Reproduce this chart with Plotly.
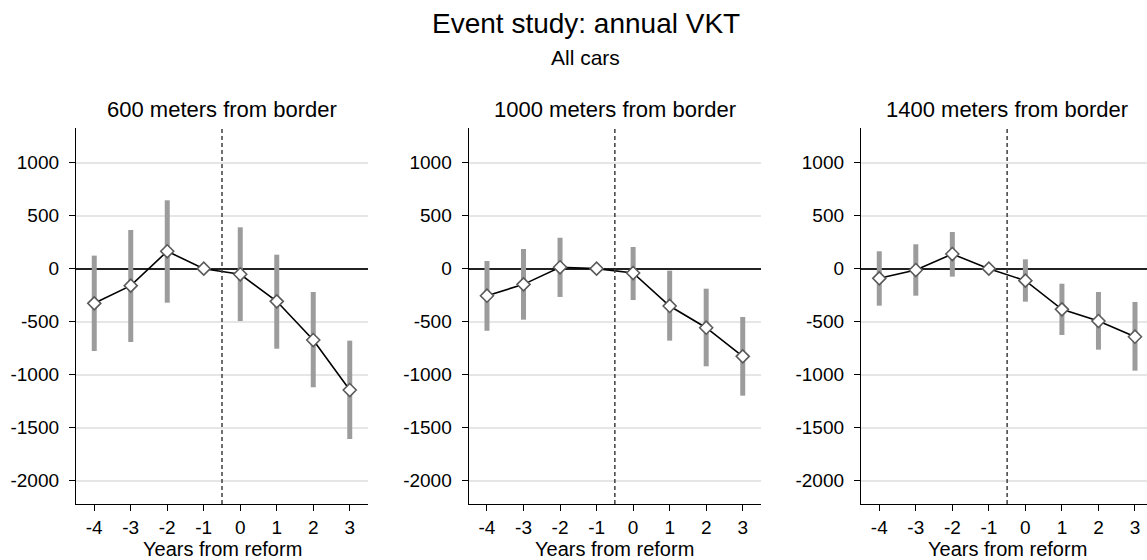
import plotly.graph_objects as go

# ---------------- data ----------------
years = [-4, -3, -2, -1, 0, 1, 2, 3]

panel_titles = ["600 meters from border", "1000 meters from border", "1400 meters from border"]

est_600 = [-327, -160, 164, 0, -53, -308, -673, -1145]
lo_600 = [-777, -692, -321, 0, -494, -755, -1119, -1607]
hi_600 = [123, 365, 645, 0, 390, 132, -220, -679]

est_1000 = [-255, -148, 13, 0, -41, -352, -557, -827]
lo_1000 = [-585, -481, -267, 0, -296, -679, -921, -1198]
hi_1000 = [72, 186, 292, 0, 204, -19, -189, -456]

est_1400 = [-91, -13, 138, 0, -113, -384, -494, -642]
lo_1400 = [-349, -255, -75, 0, -311, -626, -764, -962]
hi_1400 = [164, 230, 346, 0, 88, -142, -220, -314]

y_ticks = [-2000, -1500, -1000, -500, 0, 500, 1000]

panels = [
    (est_600, lo_600, hi_600),
    (est_1000, lo_1000, hi_1000),
    (est_1400, lo_1400, hi_1400),
]

# ---------------- layout constants ----------------
W, H = 1147, 560
FONT = "Liberation Sans, Arial, Helvetica, sans-serif"
x_domains = [[76 / W, 368 / W], [468.7 / W, 761 / W], [861 / W, 1.0]]
x_ranges = [[-4.5, 3.5], [-4.5, 3.5], [-4.5, 3 + 12 / 36.5]]
y_domain = [1 - 504 / H, 1 - 128 / H]
y_range = [-2220, 1327]

fig = go.Figure()

for i, (est, lo, hi) in enumerate(panels):
    xa = "x" if i == 0 else f"x{i + 1}"
    ya = "y" if i == 0 else f"y{i + 1}"
    # confidence interval spikes
    cx, cy = [], []
    for yr, l, h in zip(years, lo, hi):
        if l == h:
            continue
        cx += [yr, yr, None]
        cy += [l, h, None]
    fig.add_trace(go.Scatter(
        x=cx, y=cy, mode="lines", xaxis=xa, yaxis=ya,
        line=dict(color="#9c9c9c", width=5), showlegend=False, hoverinfo="skip",
    ))
    # point estimates
    fig.add_trace(go.Scatter(
        x=years, y=est, mode="lines+markers", xaxis=xa, yaxis=ya,
        line=dict(color="black", width=1.6),
        marker=dict(symbol="diamond", size=10, color="white",
                    line=dict(color="#5a5a5a", width=1.6)),
        showlegend=False,
    ))
    # vertical dashed reference line
    fig.add_shape(type="line", xref=xa, yref=f"{ya} domain", x0=-0.5, x1=-0.5, y0=0, y1=1,
                  line=dict(color="#404040", width=1.5, dash="4px,3px"), layer="above")
    # panel title
    fig.add_annotation(text=panel_titles[i], xref=xa, yref="paper", x=-0.5, y=1 - 109.5 / H,
                       xanchor="center", yanchor="middle", showarrow=False,
                       font=dict(size=22, color="black", family=FONT))
    # x axis title
    fig.add_annotation(text="Years from reform", xref=xa, yref="paper", x=-0.5, y=1 - 549 / H,
                       xanchor="center", yanchor="middle", showarrow=False,
                       font=dict(size=20, color="black", family=FONT))

    xkey = "xaxis" if i == 0 else f"xaxis{i + 1}"
    ykey = "yaxis" if i == 0 else f"yaxis{i + 1}"
    fig.update_layout({
        xkey: dict(
            domain=x_domains[i], range=x_ranges[i], anchor=ya,
            tickmode="array", tickvals=years, ticktext=[str(v) for v in years],
            showgrid=False, zeroline=False, showline=True, linecolor="black", linewidth=1.3,
            ticks="outside", ticklen=6, tickwidth=1.3, tickcolor="black",
            tickfont=dict(size=19, color="black", family=FONT), ticklabelstandoff=0,
            fixedrange=True,
        ),
        ykey: dict(
            domain=y_domain, range=y_range, anchor=xa,
            tickmode="array", tickvals=y_ticks, ticktext=[str(v) for v in y_ticks],
            showgrid=True, gridcolor="#e6e6e6", gridwidth=1.5,
            zeroline=True, zerolinecolor="#222222", zerolinewidth=1.5,
            showline=True, linecolor="black", linewidth=1.3,
            ticks="outside", ticklen=6, tickwidth=1.3, tickcolor="black",
            tickfont=dict(size=19, color="black", family=FONT), ticklabelstandoff=6,
            fixedrange=True,
        ),
    })

fig.add_annotation(text="Event study: annual VKT", xref="paper", yref="paper",
                   x=585.5 / W, y=1 - 24 / H, xanchor="center", yanchor="middle", showarrow=False,
                   font=dict(size=28, color="black", family=FONT))
fig.add_annotation(text="All cars", xref="paper", yref="paper",
                   x=585.5 / W, y=1 - 58 / H, xanchor="center", yanchor="middle", showarrow=False,
                   font=dict(size=21, color="black", family=FONT))

fig.update_layout(
    width=W, height=H,
    margin=dict(l=0, r=0, t=0, b=0),
    paper_bgcolor="white", plot_bgcolor="white",
    showlegend=False,
    font=dict(family=FONT, color="black"),
)

fig.write_html("out.html")
